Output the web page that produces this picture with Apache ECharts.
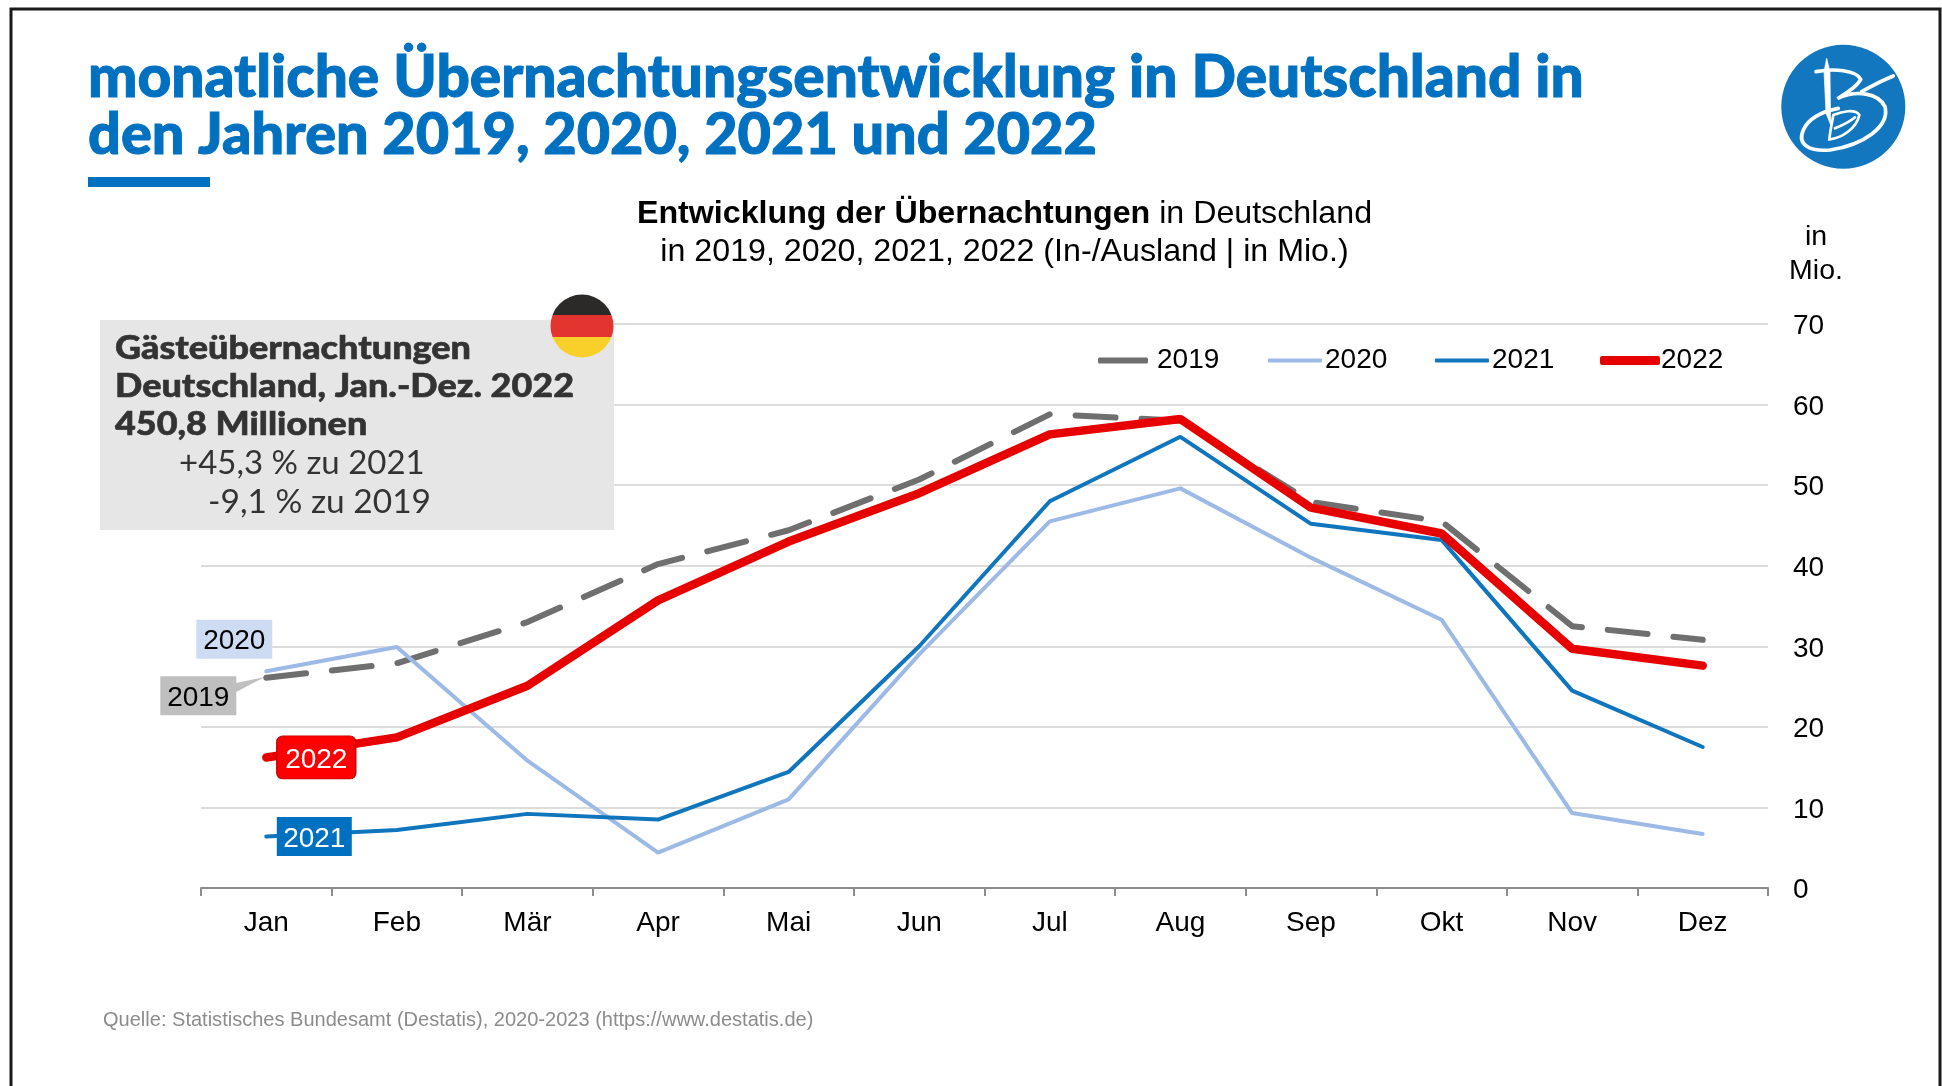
<!DOCTYPE html>
<html><head><meta charset="utf-8">
<style>html,body{margin:0;padding:0;background:#fff}#c{width:1942px;height:1086px}</style>
<script src="https://cdn.jsdelivr.net/npm/echarts@6/dist/echarts.min.js"></script>
</head><body><div id="c"></div>
<script>
const months = ['Jan','Feb','Mär','Apr','Mai','Jun','Jul','Aug','Sep','Okt','Nov','Dez'];
const y2019 = [26.1,27.9,33.0,40.2,44.4,50.7,58.8,58.0,47.9,45.5,32.5,30.8];
const y2020 = [26.9,29.9,15.8,4.4,11.0,29.0,45.5,49.6,41.0,33.3,9.3,6.7];
const y2021 = [6.4,7.2,9.2,8.5,14.4,30.0,48.0,56.0,45.2,43.2,24.5,17.5];
const y2022 = [16.2,18.7,25.1,35.7,43.0,49.0,56.3,58.2,47.2,44.0,29.7,27.6];
const yTicks = {min:0,max:70,interval:10};
const TXT = '"Liberation Sans",Arial,sans-serif';
const HEAD = 'Lato,"Open Sans",sans-serif';

echarts.graphic.registerShape('logoA', echarts.graphic.extendPath('M648 215 C700 205 770 210 782 238 C770 262 735 282 712 296 C770 268 835 280 855 320 C870 380 790 435 690 450 C630 455 590 435 610 390 C625 355 665 335 715 325 M880 228 C850 240 815 258 785 275',{}));
echarts.graphic.registerShape('logoB', echarts.graphic.extendPath('M700 345 C695 375 690 395 688 418 C725 415 770 385 778 345 C765 325 725 335 700 345 M705 385 C730 375 750 365 765 352',{}));
echarts.graphic.registerShape('logoC', echarts.graphic.extendPath('M680 175 L690 215 L692 375 L678 340 L672 215 Z',{}));

function tag(year, vals, size, offset, fill, textColor, symbol, extra){
  return {
    silent:true, animation:false, z:20,
    symbol:symbol||'rect', symbolSize:size, symbolOffset:offset,
    itemStyle:Object.assign({color:fill},extra||{}),
    label:{show:true,position:'inside',offset:[0,2.5],formatter:year,color:textColor,fontFamily:TXT,fontSize:28},
    data:[{coord:[months[0],vals[0]]}]
  };
}
function legendItem(name,left,w,h,textGap){
  return {left:left,top:346.5,padding:0,itemWidth:w,itemHeight:h,icon:'roundRect',selectedMode:false,
    textStyle:{fontFamily:TXT,fontSize:28,color:'#000',padding:[5,0,0,textGap]},data:[name]};
}
function infoLine(t,x,y){
  return {type:'text',z:1,silent:true,x:x,y:y,scaleX:1.09,style:{text:t,fill:'#333',font:'900 33px '+HEAD,textVerticalAlign:'middle',stroke:'#333',lineWidth:0.6}};
}
function headLine(t,top,size){
  return {text:t,left:83,top:top,textStyle:{color:'#0070c0',fontFamily:HEAD,fontWeight:900,fontSize:size,lineHeight:60,textBorderColor:'#0070c0',textBorderWidth:1}};
}
const chart = echarts.init(document.getElementById('c'),null,{renderer:'canvas'});
chart.setOption({
  animation:false,
  backgroundColor:'#fff',
  title:[
    headLine('monatliche Übernachtungsentwicklung in Deutschland in',43,58.6),
    headLine('den Jahren 2019, 2020, 2021 und 2022',100,57.6),
    {text:'{b|Entwicklung der Übernachtungen }{n|in Deutschland}\n{n|in 2019, 2020, 2021, 2022 (In-/Ausland | in Mio.)}',
     left:999.5,top:190,textAlign:'center',
     textStyle:{rich:{b:{fontFamily:TXT,fontWeight:'bold',fontSize:32.2,lineHeight:38,color:'#000'},n:{fontFamily:TXT,fontWeight:'normal',fontSize:32.2,lineHeight:38,color:'#000'}}}},
    {text:'Quelle: Statistisches Bundesamt (Destatis), 2020-2023 (https://www.destatis.de)',
     left:98,top:1005,textStyle:{color:'#8c8c8c',fontFamily:TXT,fontWeight:'normal',fontSize:20.05}}
  ],
  grid:{left:201,right:174,top:324,bottom:198,containLabel:false},
  legend:[
    legendItem('2019',1098,50,6,4),
    legendItem('2020',1268,54,4,-2),
    legendItem('2021',1435,54,4,-2),
    legendItem('2022',1600,60,9,-4)
  ],
  xAxis:{type:'category',data:months,boundaryGap:true,
    axisLine:{show:true,lineStyle:{color:'#8c8c8c',width:2}},
    axisTick:{show:true,alignWithLabel:false,length:8,lineStyle:{color:'#8c8c8c',width:2}},
    axisLabel:{color:'#000',fontFamily:TXT,fontSize:28,margin:21,interval:0},
    splitLine:{show:false}},
  yAxis:{type:'value',position:'right',min:yTicks.min,max:yTicks.max,interval:yTicks.interval,
    axisLine:{show:false},axisTick:{show:false},
    axisLabel:{color:'#000',fontFamily:TXT,fontSize:28,margin:25,verticalAlign:'top',lineHeight:5},
    splitLine:{show:true,lineStyle:{color:'#dcdcdc',width:2}}},
  series:[
    {name:'2019',type:'line',data:y2019,symbol:'none',z:2,
      lineStyle:{color:'#6f6f6f',width:6,type:[40,26],cap:'round',join:'bevel'},itemStyle:{color:'#6f6f6f'},
      markPoint:tag('2019',y2019,[76,39],[-68,18],'#bfbfbf','#000')},
    {name:'2020',type:'line',data:y2020,symbol:'none',z:3,
      lineStyle:{color:'#9db9e6',width:4,cap:'round',join:'bevel'},itemStyle:{color:'#9db9e6'},
      markPoint:tag('2020',y2020,[76,39],[-32,-32],'#cddcf3','#000')},
    {name:'2021',type:'line',data:y2021,symbol:'none',z:4,
      lineStyle:{color:'#0f75bc',width:4,cap:'round',join:'bevel'},itemStyle:{color:'#0f75bc'},
      markPoint:tag('2021',y2021,[75,39],[48,0],'#0070c0','#fff')},
    {name:'2022',type:'line',data:y2022,symbol:'none',z:5,
      lineStyle:{color:'#e60000',width:8.5,cap:'round',join:'bevel'},itemStyle:{color:'#e60000'},
      markPoint:tag('2022',y2022,[79,43],[50,0],'#fe0000','#fff','path://M6 0H73A6 6 0 0 1 79 6V37A6 6 0 0 1 73 43H6A6 6 0 0 1 0 37V6A6 6 0 0 1 6 0Z',{borderColor:'#c00000',borderWidth:1})}
  ],
  graphic:[
    {type:'polyline',z:1,silent:true,shape:{points:[[11,1086],[11,9],[1940,9],[1940,1086]]},style:{stroke:'#1a1a1a',lineWidth:3,fill:null}},
    {type:'rect',z:1,silent:true,shape:{x:88,y:177,width:122,height:10},style:{fill:'#0070c0'}},
    // info box
    {type:'rect',z:1,silent:true,shape:{x:100,y:320,width:514,height:210},style:{fill:'#e6e6e6'}},
    infoLine('Gästeübernachtungen',115,348),
    infoLine('Deutschland, Jan.-Dez. 2022',115,386),
    infoLine('450,8 Millionen',115,424),
    {type:'text',z:1,silent:true,x:179,y:463,style:{text:'+45,3 % zu 2021',fill:'#333',font:'33px '+HEAD,textVerticalAlign:'middle'}},
    {type:'text',z:1,silent:true,x:208,y:502,style:{text:'-9,1 % zu 2019',fill:'#333',font:'33.5px '+HEAD,textVerticalAlign:'middle'}},
    // flag
    {type:'circle',z:1,silent:true,shape:{cx:582,cy:326,r:31.5},style:{fill:new echarts.graphic.LinearGradient(0,0,0,1,[
      {offset:0,color:'#2b2a29'},{offset:.33,color:'#2b2a29'},{offset:.33,color:'#e3342f'},
      {offset:.67,color:'#e3342f'},{offset:.67,color:'#f9d02a'},{offset:1,color:'#f9d02a'}])}},
    // axis unit
    {type:'text',z:1,silent:true,x:1816,y:237.5,style:{text:'in',fill:'#000',font:'28.5px '+TXT,textAlign:'center',textVerticalAlign:'middle'}},
    {type:'text',z:1,silent:true,x:1816,y:271,style:{text:'Mio.',fill:'#000',font:'28.5px '+TXT,textAlign:'center',textVerticalAlign:'middle'}},
    // 2019 leader
    {type:'polygon',z:1,silent:true,shape:{points:[[236,683],[265,677],[236,692]]},style:{fill:'#bfbfbf'}},
    // logo
    {type:'circle',z:1,silent:true,shape:{cx:1843.3,cy:106.7,r:62},style:{fill:'#1277bf'}},
    {type:'logoA',z:1,silent:true,x:1600,y:0,scaleX:1/3,scaleY:1/3,
      style:{fill:null,stroke:'#fff',lineWidth:11,lineCap:'round'}},
    {type:'logoB',z:1,silent:true,x:1600,y:0,scaleX:1/3,scaleY:1/3,
      style:{fill:null,stroke:'#fff',lineWidth:8,lineCap:'round'}},
    {type:'logoC',z:1,silent:true,x:1600,y:0,scaleX:1/3,scaleY:1/3,
      style:{fill:'#fff',stroke:'#fff',lineWidth:2}}
  ]
});
</script></body></html>
